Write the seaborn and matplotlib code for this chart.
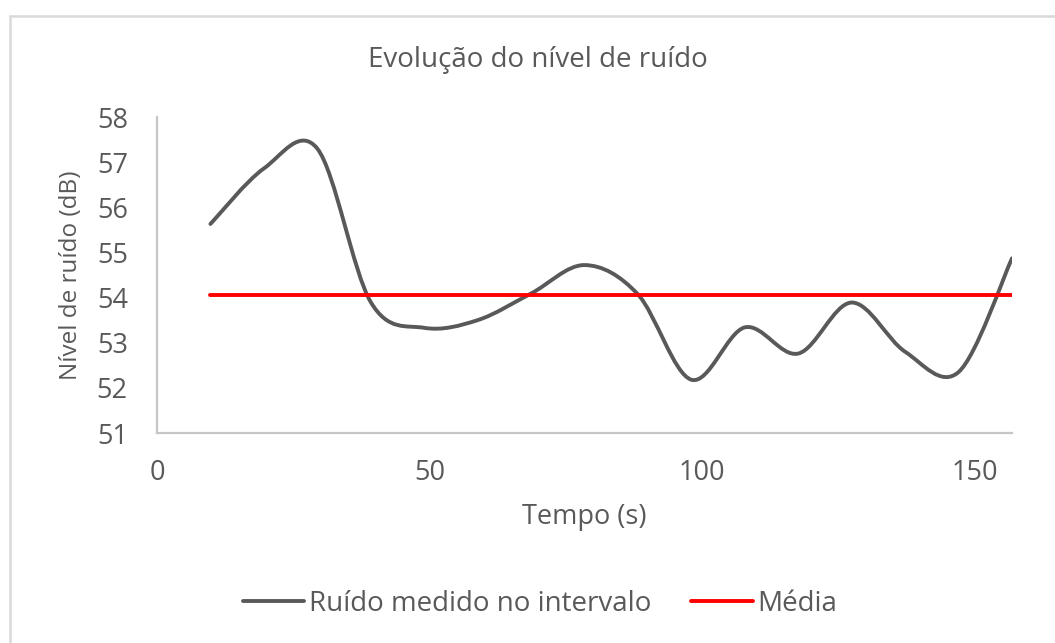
import numpy as np
import matplotlib
matplotlib.use('Agg')
import matplotlib.pyplot as plt
from matplotlib.path import Path
from matplotlib.patches import PathPatch, Rectangle
from matplotlib.lines import Line2D
import seaborn as sns

# tempo (s) e nivel de ruido (dB)
tempo = [9.8, 19.6, 29.4, 39.2, 49.0, 58.8, 68.6, 78.4,
         88.2, 98.0, 107.8, 117.6, 127.4, 137.2, 147.0, 156.8]
ruido = [55.63, 56.86, 57.30, 53.90, 53.33, 53.50, 54.09, 54.72,
         54.07, 52.18, 53.34, 52.76, 53.89, 52.80, 52.35, 54.87]
media = 54.05
xticks = [0, 50, 100, 150]
yticks = [51, 52, 53, 54, 55, 56, 57, 58]

cor_ruido = '#595959'
cor_media = '#FF0000'
cor_texto = '#595959'
cor_eixo = '#C6C6C6'

sns.set_theme(style='white')
plt.rcParams['font.family'] = ['Open Sans', 'DejaVu Sans']

fig = plt.figure(figsize=(10.55, 6.43), dpi=100)
ax = fig.add_axes([157 / 1055, 1 - 433 / 643, (1012 - 157) / 1055, (433 - 117) / 643])

# moldura do grafico (estilo excel)
fig.patches.append(Rectangle((10 / 1055, -0.1), 1.2, 1 - 16 / 643 + 0.1,
                             transform=fig.transFigure, fill=False,
                             edgecolor='#D9D9D9', lw=1.8))

# curva suavizada como no excel: bezier com pontos de controlo catmull-rom
pts = np.column_stack([tempo, ruido])
verts = [pts[0]]
codes = [Path.MOVETO]
n = len(pts)
for i in range(n - 1):
    p0 = pts[max(i - 1, 0)]
    p1 = pts[i]
    p2 = pts[i + 1]
    p3 = pts[min(i + 2, n - 1)]
    verts += [p1 + (p2 - p0) / 6, p2 - (p3 - p1) / 6, p2]
    codes += [Path.CURVE4] * 3
ax.add_patch(PathPatch(Path(verts, codes), facecolor='none', edgecolor=cor_ruido,
                       lw=2.8, capstyle='round', joinstyle='round'))

sns.lineplot(x=tempo, y=[media] * len(tempo), ax=ax, color=cor_media, lw=2.8)

ax.set_xlim(0, tempo[-1])
ax.set_ylim(51, 58)
ax.set_xticks(xticks)
ax.set_yticks(yticks)
ax.tick_params(axis='both', length=0, labelsize=19.5, labelcolor=cor_texto)
ax.tick_params(axis='y', pad=21)
ax.tick_params(axis='x', pad=19)
for s in ['top', 'right']:
    ax.spines[s].set_visible(False)
for s in ['left', 'bottom']:
    ax.spines[s].set_color(cor_eixo)
    ax.spines[s].set_linewidth(1.6)

ax.set_xlabel('Tempo (s)', fontsize=19.5, color=cor_texto, labelpad=11)
ax.set_ylabel('Nível de ruído (dB)', fontsize=17.5, color=cor_texto, labelpad=10)
fig.text(538 / 1055, 1 - 60 / 643, 'Evolução do nível de ruído', ha='center', va='center',
         fontsize=20, color=cor_texto)

handles = [Line2D([], [], color=cor_ruido, lw=2.8),
           Line2D([], [], color=cor_media, lw=2.8)]
fig.legend(handles, ['Ruído medido no intervalo', 'Média'], loc='center',
           bbox_to_anchor=(540 / 1055, 1 - 604 / 643), ncol=2, frameon=False,
           fontsize=20, labelcolor=cor_texto, handlelength=2.2, handletextpad=0.18,
           columnspacing=1.45)

fig.savefig('out.png', dpi=100)
